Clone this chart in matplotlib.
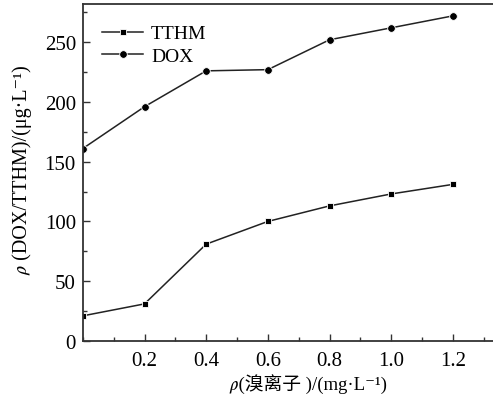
import matplotlib.pyplot as plt
from matplotlib.ticker import MultipleLocator

# Data
bromide = [0.0, 0.2, 0.4, 0.6, 0.8, 1.0, 1.2]
tthm = [21, 31, 81, 100, 113, 123, 131]
dox = [161, 196, 226, 227, 252, 262, 272]
x_ticks = [0.2, 0.4, 0.6, 0.8, 1.0, 1.2]
y_ticks = [0, 50, 100, 150, 200, 250]

fonts = ['Liberation Serif', 'Noto Sans CJK SC', 'STIXGeneral', 'DejaVu Sans']
plt.rcParams['font.family'] = fonts

fig = plt.figure(figsize=(4.93, 4.10), dpi=100)
ax = fig.add_axes([0.168, 0.166, 0.832, 0.822])

ax.plot(bromide, tthm, color='#222222', lw=1.1, marker='s', ms=4,
        mfc='black', mec='white', mew=0.6, label='TTHM')
ax.plot(bromide, dox, color='#222222', lw=1.1, marker='o', ms=5.5,
        mfc='black', mec='white', mew=0.6, label='DOX')

ax.set_xlim(0, 1.33)
ax.set_ylim(0, 282)
ax.set_xticks(x_ticks)
ax.set_xticklabels([f'{v:.1f}' for v in x_ticks])
ax.set_yticks(y_ticks)
ax.xaxis.set_minor_locator(MultipleLocator(0.1))
ax.yaxis.set_minor_locator(MultipleLocator(25))
ax.tick_params(which='both', direction='in', labelsize=15, color='#333333')
ax.tick_params(which='major', length=5, width=1)
ax.tick_params(which='minor', length=3, width=1)
ax.tick_params(axis='x', pad=7)
ax.tick_params(axis='y', pad=5)

ax.spines['right'].set_visible(False)
for s in ['left', 'bottom', 'top']:
    ax.spines[s].set_linewidth(1.3)
    ax.spines[s].set_color('#333333')

ax.set_xlabel('𝜌(溴离子 )/(mg·L⁻¹)', fontsize=13.5)
ax.xaxis.set_label_coords(0.55, -0.095)
ax.set_ylabel('𝜌 (DOX/TTHM)/(μg·L⁻¹)', fontsize=14.5)
ax.yaxis.set_label_coords(-0.125, 0.51)

ax.legend(loc='upper left', bbox_to_anchor=(0.005, 0.99), frameon=False,
          fontsize=14, handlelength=2.1, handletextpad=0.4, labelspacing=0.25)

plt.savefig('out.png', dpi=100)
